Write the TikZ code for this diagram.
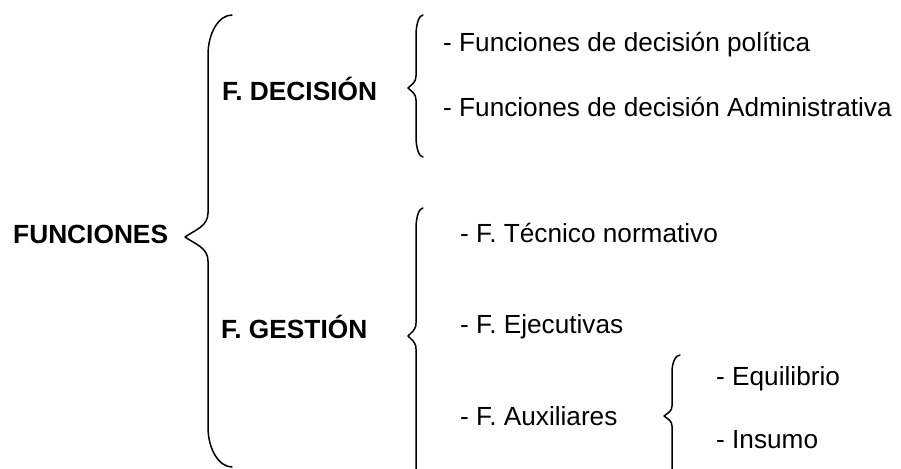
\documentclass[tikz,border=0pt]{standalone}
\usepackage{fontspec}
\setmainfont{Liberation Sans}
\tikzset{
  txt/.style={anchor=base west, inner sep=0pt, font=\fontsize{26.2}{30}\selectfont},
  head/.style={txt, font=\fontsize{26.3}{30}\selectfont\bfseries},
  bracepath/.style={draw=black, line width=1.5pt, line cap=round, line join=round}
}
\newcommand{\mybrace}[8]{% xe xv xt yt ym yb r r2
  \draw[bracepath] (#1,#4) .. controls ({#2+0.45*(#1-#2)},#4) and (#2,{#4+0.45*#7}) .. (#2,{#4+#7})
    -- (#2,{#5-#8})
    .. controls (#2,{#5-0.45*#8}) and ({#3+0.45*(#2-#3)},{#5-0.3*#8}) .. (#3,#5)
    .. controls ({#3+0.45*(#2-#3)},{#5+0.3*#8}) and (#2,{#5+0.45*#8}) .. (#2,{#5+#8})
    -- (#2,{#6-#7})
    .. controls (#2,{#6-0.45*#7}) and ({#2+0.45*(#1-#2)},#6) .. (#1,#6);}
\begin{document}
\begin{tikzpicture}[x=1pt,y=-1pt]
\useasboundingbox (0,0) rectangle (901,468);
\begin{scope}
\clip (0,0) rectangle (901,468);
% braces
\mybrace{232}{208}{185}{15}{237}{467}{40}{24}
\mybrace{423}{416}{408}{15}{88}{157}{20}{12}
\mybrace{423}{416}{408}{208}{336}{495}{20}{13}
\mybrace{680}{672}{664}{355}{416}{490}{17}{10}
\end{scope}
% texts
\node[head] (fun) at (13,243) {FUNCIONES};
\node[head] (dec) at (222,100) {F. DECISIÓN};
\node[head] (ges) at (221,338) {F. GESTIÓN};
\node[txt] (pol) at (443,52) {- Funciones de decisión política};
\node[txt] (adm) at (443,117) {- Funciones de decisión Administrativa};
\node[txt] (tec) at (460,242) {- F. Técnico normativo};
\node[txt] (eje) at (460,333) {- F. Ejecutivas};
\node[txt] (aux) at (460,425) {- F. Auxiliares};
\node[txt] (equ) at (716,385) {- Equilibrio};
\node[txt] (ins) at (716,448) {- Insumo};
\end{tikzpicture}
\end{document}
